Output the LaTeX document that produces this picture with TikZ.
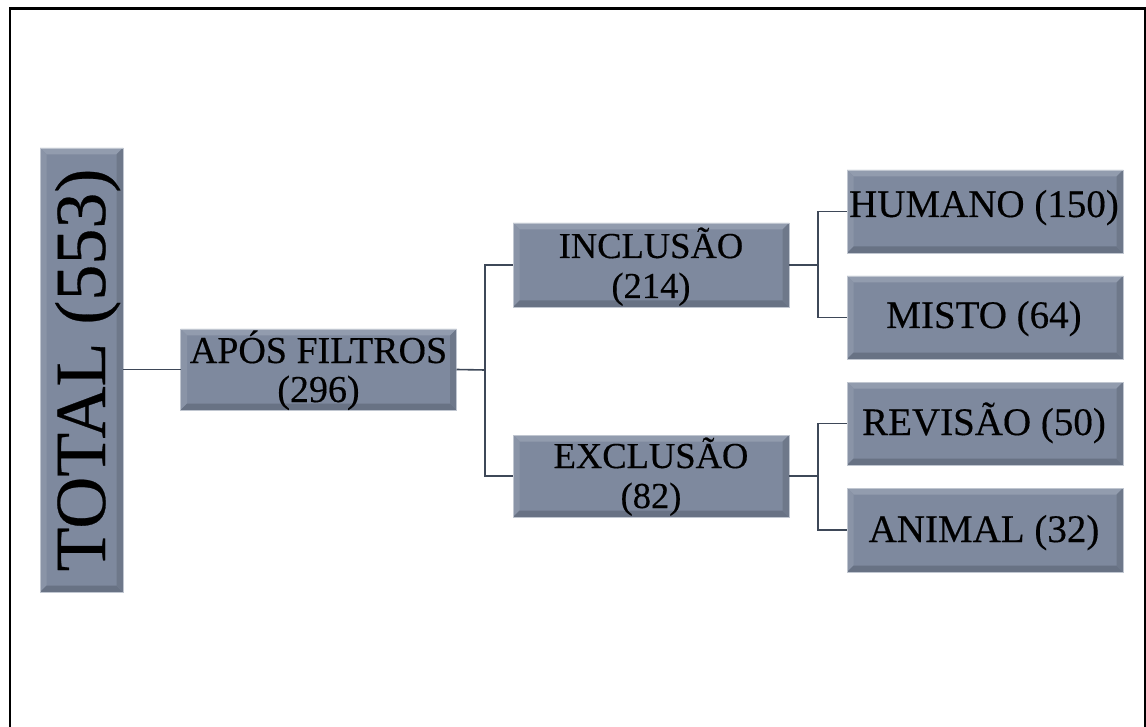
\documentclass[tikz,border=0pt]{standalone}
\usepackage{fontspec}
\setmainfont{Liberation Serif}
\newfontfamily\labfont{Liberation Serif}[FakeBold=0.35]
\begin{document}
\begin{tikzpicture}[x=1pt,y=-1pt,
  bevbox/.style={rectangle, inner sep=0pt, outer sep=0pt, fill=boxface, draw=boxedge, line width=0.8pt,
    path picture={
      \def\bw{6.5pt}
      \fill[bevtop] (path picture bounding box.north west) -- (path picture bounding box.north east)
        -- ([xshift=-\bw,yshift=-\bw]path picture bounding box.north east)
        -- ([xshift=\bw,yshift=-\bw]path picture bounding box.north west) -- cycle;
      \fill[bevleft] (path picture bounding box.north west) -- (path picture bounding box.south west)
        -- ([xshift=\bw,yshift=\bw]path picture bounding box.south west)
        -- ([xshift=\bw,yshift=-\bw]path picture bounding box.north west) -- cycle;
      \fill[bevbot] (path picture bounding box.south west) -- (path picture bounding box.south east)
        -- ([xshift=-\bw,yshift=\bw]path picture bounding box.south east)
        -- ([xshift=\bw,yshift=\bw]path picture bounding box.south west) -- cycle;
      \fill[bevright] (path picture bounding box.north east) -- (path picture bounding box.south east)
        -- ([xshift=-\bw,yshift=\bw]path picture bounding box.south east)
        -- ([xshift=-\bw,yshift=-\bw]path picture bounding box.north east) -- cycle;
    }},
  wide/.style={bevbox, minimum width=276pt, minimum height=82pt},
  lab/.style={anchor=base, inner sep=0pt, text=black},
  lvltwo/.style={lab, font=\labfont\fontsize{38}{40}\selectfont},
  lvlthree/.style={lab, font=\labfont\fontsize{36.5}{38}\selectfont},
  lvlfour/.style={lab, font=\labfont\fontsize{39}{41}\selectfont},
  conn/.style={draw=connc, line width=1.6pt}
]
\definecolor{boxface}{RGB}{126,137,158}
\definecolor{boxedge}{RGB}{192,198,208}
\definecolor{bevtop}{RGB}{146,156,174}
\definecolor{bevleft}{RGB}{138,148,167}
\definecolor{bevbot}{RGB}{104,114,132}
\definecolor{bevright}{RGB}{110,120,138}
\definecolor{connc}{RGB}{62,72,88}
\useasboundingbox (0,0) rectangle (1146,727);
\begin{scope}
\clip (0,0) rectangle (1146,727);
\draw[line width=2.2pt, black] (10,8.5) rectangle (1145.5,760);
\end{scope}

% boxes
\node[bevbox, minimum width=83pt, minimum height=444pt] (total) at (81.5,370) {};
\node[wide, minimum height=81pt] (apos) at (318.5,369.5) {};
\node[wide, minimum height=84pt] (incl) at (651,265) {};
\node[wide] (excl) at (651,476) {};
\node[wide, minimum height=83pt] (hum) at (985,211.5) {};
\node[wide, minimum height=83pt] (mis) at (985,317.5) {};
\node[wide, minimum height=83pt] (rev) at (985,423.5) {};
\node[wide, minimum height=84pt] (ani) at (985,530) {};

% labels
\node[lab, rotate=90, font=\labfont\fontsize{72}{74}\selectfont] (totaltxt) at (105,370) {TOTAL (553)};
\node[lvltwo] (apos1) at (318.5,363) {APÓS FILTROS};
\node[lvltwo] (apos2) at (318.5,402) {(296)};
\node[lvlthree] (incl1) at (651,258) {INCLUSÃO};
\node[lvlthree] (incl2) at (651,298) {(214)};
\node[lvlthree] (excl1) at (651,468) {EXCLUSÃO};
\node[lvlthree] (excl2) at (651,508) {(82)};
\node[lvlfour] (humtxt) at (984,217) {HUMANO (150)};
\node[lvlfour] (mistxt) at (984,328) {MISTO (64)};
\node[lvlfour] (revtxt) at (984,435) {REVISÃO (50)};
\node[lvlfour] (anitxt) at (984,542) {ANIMAL (32)};

% connectors
\coordinate (j1) at (485,370);
\coordinate (j2) at (818,265);
\coordinate (j3) at (818,476);
\draw[conn] (total.east |- apos.west) -- (apos.west);
\draw[conn] (apos.east) -- (j1);
\draw[conn] (j1) |- (incl.west);
\draw[conn] (j1) |- (excl.west);
\draw[conn] (incl.east) -- (j2);
\draw[conn] (j2) |- (hum.west);
\draw[conn] (j2) |- (mis.west);
\draw[conn] (excl.east) -- (j3);
\draw[conn] (j3) |- (rev.west);
\draw[conn] (j3) |- (ani.west);
\end{tikzpicture}
\end{document}
